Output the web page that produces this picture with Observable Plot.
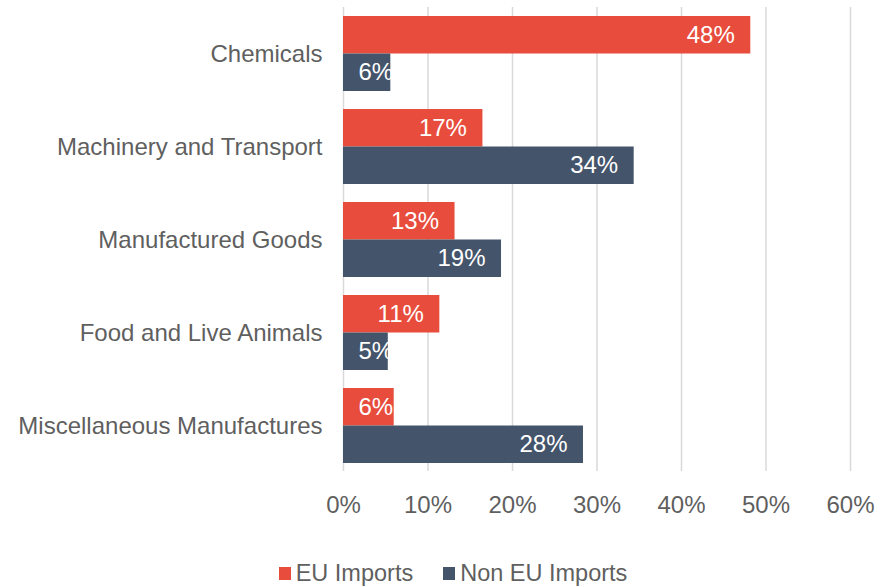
<!DOCTYPE html>
<html>
<head>
<meta charset="utf-8">
<script src="https://cdn.jsdelivr.net/npm/d3@7"></script>
<script src="https://cdn.jsdelivr.net/npm/@observablehq/plot@0.6"></script>
<style>
  body { margin: 0; background: white; }
  #wrap { position: relative; width: 886px; height: 587px; font-family: "Liberation Sans", Arial, sans-serif; }
  #legend { position: absolute; left: 0; top: 560px; width: 886px; display: flex; justify-content: center; align-items: center; font-size: 23.5px; color: #5f5f5f; padding-left: 20px; box-sizing: border-box; }
  .item { display: flex; align-items: center; margin-right: 30px; }
  .item:last-child { margin-right: 0; }
  .sw { width: 12px; height: 13px; margin-right: 5px; }
</style>
</head>
<body>
<div id="wrap"><div id="chart"></div><div id="legend"></div></div>
<script>
const categories = ["Chemicals", "Machinery and Transport", "Manufactured Goods", "Food and Live Animals", "Miscellaneous Manufactures"];
const series = ["EU Imports", "Non EU Imports"];
const euImports = [48.2, 16.5, 13.2, 11.4, 6.0];
const nonEuImports = [5.6, 34.4, 18.7, 5.3, 28.4];
const xTicks = [0, 10, 20, 30, 40, 50, 60];
const colors = ["#E74C3C", "#44546A"];

const euRows = categories.map((c, i) => ({category: c, series: series[0], value: euImports[i]}));
const nonRows = categories.map((c, i) => ({category: c, series: series[1], value: nonEuImports[i]}));
const fmt = d => Math.round(d.value) + "%";
const SMALL = 8;

function labels(rows, dy) {
  return [
    Plot.text(rows.filter(d => d.value >= SMALL), {x: "value", y: "category", text: fmt, textAnchor: "end", dx: -16, dy, fill: "white"}),
    Plot.text(rows.filter(d => d.value < SMALL), {y: "category", frameAnchor: "left", text: fmt, textAnchor: "start", dx: 15, dy, fill: "white"})
  ];
}

const chart = Plot.plot({
  width: 886,
  height: 530,
  marginLeft: 343,
  marginRight: 36,
  marginTop: 7,
  marginBottom: 59,
  style: {fontFamily: "'Liberation Sans', Arial, sans-serif", fontSize: "24px", color: "#5f5f5f", background: "white"},
  x: {domain: [0, 60], ticks: xTicks, tickFormat: d => d + "%", label: null, tickSize: 0, tickPadding: 24},
  y: {domain: categories, paddingInner: 0.196, paddingOuter: 0.086, label: null, tickSize: 0, tickPadding: 21},
  marks: [
    Plot.ruleX(xTicks, {stroke: "#d9d9d9", strokeWidth: 1.5}),
    Plot.barX(euRows, {x: "value", y: "category", fill: colors[0], insetBottom: 37.5}),
    Plot.barX(nonRows, {x: "value", y: "category", fill: colors[1], insetTop: 37.5}),
    ...labels(euRows, -18.75),
    ...labels(nonRows, 18.75)
  ]
});
document.getElementById("chart").appendChild(chart);

const legend = document.getElementById("legend");
series.forEach((s, i) => {
  const item = document.createElement("div");
  item.className = "item";
  const sw = document.createElement("div");
  sw.className = "sw";
  sw.style.background = colors[i];
  const t = document.createElement("span");
  t.textContent = s;
  item.appendChild(sw);
  item.appendChild(t);
  legend.appendChild(item);
});
</script>
</body>
</html>
